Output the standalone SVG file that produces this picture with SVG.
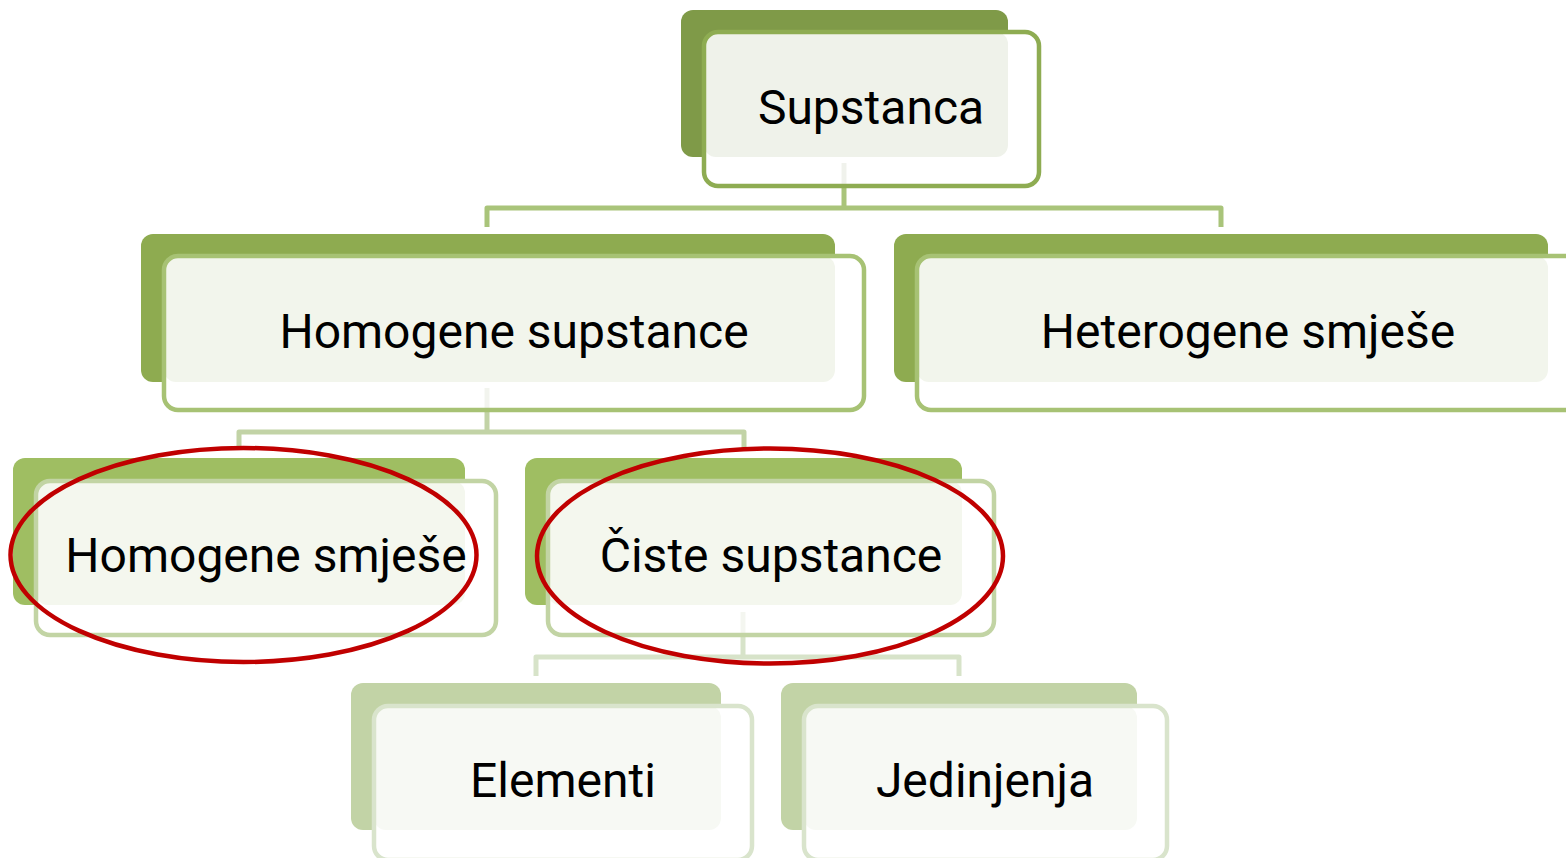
<svg xmlns="http://www.w3.org/2000/svg" width="1566" height="858" viewBox="0 0 1566 858">
<style>
text{font-family:Roboto,"Liberation Sans",sans-serif;font-size:48px;fill:#000;text-anchor:middle}
.fr{fill:none;stroke-width:4.5}
.c{fill:none;stroke-width:5;stroke-linejoin:round}
.ring{fill:none;stroke:#c00000;stroke-width:4.5}
.l1 .bk{fill:#7f9a48}.l1 .fr{stroke:#8eac52}.l1 .lt{fill:#eff2ea}
.l2 .bk{fill:#8eab50}.l2 .fr{stroke:#a7c274}.l2 .lt{fill:#f2f5ec}
.l3 .bk{fill:#9fbe62}.l3 .fr{stroke:#c2d4a4}.l3 .lt{fill:#f4f7ee}
.l4 .bk{fill:#c2d3a6}.l4 .fr{stroke:#d9e4cc}.l4 .lt{fill:#f7f9f4}
</style>
<rect width="1566" height="858" fill="#fff"/>
<g id="connectors">
<path class="c" d="M844 186V208M487 227V208H1221V227" stroke="#a9c47a"/>
<path class="c" d="M487 410V432M239 450V432H744V450" stroke="#c2d3a6"/>
<path class="c" d="M743 635V657M536 676V657H959V676" stroke="#d7e3c9"/>
</g>
<g id="n-supstanca" class="l1">
<rect class="bk" x="681" y="10" width="327" height="147" rx="12"/>
<rect x="704" y="32" width="335" height="154" rx="14" fill="#fff"/>
<rect class="lt" x="704" y="32" width="304" height="125" rx="12"/>
<path d="M844 163V186" stroke="#f0f2ec" stroke-width="5"/>
<rect class="fr" x="704" y="32" width="335" height="154" rx="14"/>
<text x="871" y="124">Supstanca</text>
</g>
<g id="n-homogene-supstance" class="l2">
<rect class="bk" x="141" y="234" width="694" height="148" rx="12"/>
<rect x="164" y="256" width="700" height="154" rx="14" fill="#fff"/>
<rect class="lt" x="164" y="256" width="671" height="126" rx="12"/>
<path d="M487 388V410" stroke="#f2f4ee" stroke-width="5"/>
<rect class="fr" x="164" y="256" width="700" height="154" rx="14"/>
<text x="514" y="348">Homogene supstance</text>
</g>
<g id="n-heterogene-smjese" class="l2">
<rect class="bk" x="894" y="234" width="654" height="148" rx="12"/>
<rect x="917" y="256" width="662" height="154" rx="14" fill="#fff"/>
<rect class="lt" x="917" y="256" width="631" height="126" rx="12"/>
<rect class="fr" x="917" y="256" width="662" height="154" rx="14"/>
<text x="1248" y="348">Heterogene smješe</text>
</g>
<g id="n-homogene-smjese" class="l3">
<rect class="bk" x="13" y="458" width="452" height="147" rx="12"/>
<rect x="36" y="481" width="460" height="154" rx="14" fill="#fff"/>
<rect class="lt" x="36" y="481" width="429" height="124" rx="12"/>
<rect class="fr" x="36" y="481" width="460" height="154" rx="14"/>
<text x="266" y="572">Homogene smješe</text>
</g>
<g id="n-ciste-supstance" class="l3">
<rect class="bk" x="525" y="458" width="437" height="147" rx="12"/>
<rect x="548" y="481" width="446" height="154" rx="14" fill="#fff"/>
<rect class="lt" x="548" y="481" width="414" height="124" rx="12"/>
<path d="M743 612V635" stroke="#f4f6f0" stroke-width="5"/>
<rect class="fr" x="548" y="481" width="446" height="154" rx="14"/>
<text x="771" y="572">Čiste supstance</text>
</g>
<g id="n-elementi" class="l4">
<rect class="bk" x="351" y="683" width="370" height="147" rx="12"/>
<rect x="374" y="706" width="378" height="154" rx="14" fill="#fff"/>
<rect class="lt" x="374" y="706" width="347" height="124" rx="12"/>
<rect class="fr" x="374" y="706" width="378" height="154" rx="14"/>
<text x="563" y="797">Elementi</text>
</g>
<g id="n-jedinjenja" class="l4">
<rect class="bk" x="781" y="683" width="356" height="147" rx="12"/>
<rect x="804" y="706" width="363" height="154" rx="14" fill="#fff"/>
<rect class="lt" x="804" y="706" width="333" height="124" rx="12"/>
<rect class="fr" x="804" y="706" width="363" height="154" rx="14"/>
<text x="985" y="797">Jedinjenja</text>
</g>
<g id="highlights">
<ellipse class="ring" cx="243.5" cy="555" rx="233" ry="107"/>
<ellipse class="ring" cx="770" cy="556" rx="233" ry="107.5"/>
</g>
</svg>
